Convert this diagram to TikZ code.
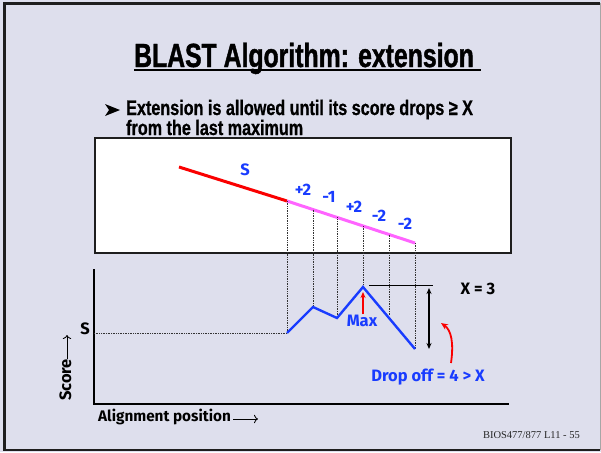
\documentclass[tikz,border=0pt]{standalone}
\usepackage{fontspec}
\setmainfont{Liberation Sans}
\newfontfamily\titlefont[FakeStretch=0.74,FakeBold=1.2]{Liberation Sans}
\newfontfamily\bulletfont[FakeStretch=0.77,FakeBold=0.8]{Liberation Sans}
\newfontfamily\lblfont{Fira Sans}
\newfontfamily\footfont{Liberation Serif}
\usetikzlibrary{arrows.meta}
\definecolor{bg}{RGB}{222,223,237}
\definecolor{lblue}{RGB}{25,60,255}
\definecolor{pinkline}{RGB}{255,100,255}
\definecolor{redline}{RGB}{250,0,0}
\definecolor{framecol}{RGB}{30,30,30}
\begin{document}
\begin{tikzpicture}[x=1pt,y=-1pt,
  lbl/.style={font={\lblfont\bfseries\fontsize{16.5}{19}\selectfont}, inner sep=0pt},
  bluelbl/.style={lbl, text=lblue},
  guide/.style={densely dotted, line width=0.7pt, black!80},
  seg/.style={line width=3pt},
  curve/.style={line width=2.4pt, lblue, line join=miter},
  axis/.style={line width=1.6pt, black}
  ]
\useasboundingbox (0,0) rectangle (601,452);
\fill[bg] (0,0) rectangle (601,452);
\draw[line width=2.2pt, framecol] (600,3.5) -- (4.5,3.5) -- (4.5,450) -- (600,450);
\draw[line width=0.8pt, black!35] (600,3.5) -- (600,450);

% title
\node[anchor=base, inner sep=0pt, font={\titlefont\bfseries\fontsize{33.5}{40}\selectfont}] (title) at (304,67) {BLAST Algorithm: extension};
\coordinate (ul1) at (134,69.5);
\coordinate (ul2) at (481,69.5);
\draw[line width=2pt] (ul1) -- (ul2);

% bullet
\fill[black] (105,104) -- (120,110) -- (105,116) -- (109,110) -- cycle;
\node[anchor=base west, inner sep=0pt, font={\bulletfont\bfseries\fontsize{21}{24}\selectfont}] (b1) at (126,115) {Extension is allowed until its score drops ≥ X};
\node[anchor=base west, inner sep=0pt, font={\bulletfont\bfseries\fontsize{21}{24}\selectfont}] (b2) at (126,135) {from the last maximum};

% white box
\draw[line width=1.8pt, framecol, fill=white] (95,138) rectangle (511,253);

% alignment line
\coordinate (r0) at (179,167);
\coordinate (p0) at (287,201);
\coordinate (p1) at (313,209.5);
\coordinate (p2) at (337,217.4);
\coordinate (p3) at (363,226);
\coordinate (p4) at (389,234.5);
\coordinate (p5) at (415,243);
\draw[seg, redline] (r0) -- (p0);
\draw[seg, pinkline] (p0) -- (p5);

\node[bluelbl] (sl) at (245,170) {S};
\node[bluelbl] (l1) at (303,190) {+2};
\node[bluelbl] (l2) at (329,197) {-1};
\node[bluelbl] (l3) at (354,207) {+2};
\node[bluelbl] (l4) at (379,216) {-2};
\node[bluelbl] (l5) at (405,224) {-2};

% graph points
\coordinate (q0) at (287,333);
\coordinate (q1) at (313,307);
\coordinate (q2) at (337,318);
\coordinate (q3) at (363,287);
\coordinate (q4) at (389,316);
\coordinate (q5) at (415,349);

\draw[guide] (p0) -- (q0);
\draw[guide] (p1) -- (q1);
\draw[guide] (p2) -- (q2);
\draw[guide] (p3) -- (q3);
\draw[guide] (p4) -- (q4);
\draw[guide] (p5) -- (q5);

% axes
\coordinate (ytop) at (94,269);
\coordinate (orig) at (94,404);
\coordinate (xend) at (509,404);
\draw[axis] (ytop) -- (orig) -- (xend);
\coordinate (sy) at (94,333);
\draw[guide] (sy) -- (q0);
\node[lbl, text=black] (sg) at (85,329) {S};

\draw[curve] (q0) -- (q1) -- (q2) -- (q3) -- (q5);

% max marking
\coordinate (m1) at (369,285);
\coordinate (m2) at (433,285);
\draw[line width=1pt] (m1) -- (m2);
\coordinate (da1) at (429,288);
\coordinate (da2) at (429,349);
\draw[line width=1.6pt, {Stealth[length=6pt,width=5pt]}-{Stealth[length=6pt,width=5pt]}] (da1) -- (da2);
\node[lbl, text=black] (x3) at (478,289) {X = 3};

\coordinate (ma1) at (363,314);
\coordinate (ma2) at (363,292);
\draw[line width=1.5pt, redline, -{Stealth[length=6pt,width=5pt]}] (ma1) -- (ma2);
\node[bluelbl] (maxl) at (362,321) {Max};

\coordinate (ca1) at (451,363);
\coordinate (ca2) at (441,323);
\draw[line width=1.8pt, redline, -{Stealth[length=7pt,width=6pt]}] (ca1) .. controls (454,342) and (451,330) .. (ca2);
\node[bluelbl, anchor=base] (drop) at (428,381) {Drop off = 4 > X};

% axis labels
\node[lbl, text=black, anchor=base west, font={\lblfont\bfseries\fontsize{15.3}{18}\selectfont}] (xl) at (98,421) {Alignment position};
\coordinate (xa1) at (233,419);
\coordinate (xa2) at (258,419);
\draw[line width=0.8pt, -{To[length=4pt]}] (xa1) -- (xa2);
\node[lbl, text=black, rotate=90, anchor=base] (yl) at (71,380) {Score};
\coordinate (ya1) at (67,359);
\coordinate (ya2) at (67,335);
\draw[line width=0.8pt, -{To[length=4pt]}] (ya1) -- (ya2);

% footer
\node[anchor=base east, inner sep=0pt, font={\footfont\fontsize{10.5}{12}\selectfont}, text=black!85] (foot) at (580,438) {BIOS477/877 L11 - 55};
\end{tikzpicture}
\end{document}
